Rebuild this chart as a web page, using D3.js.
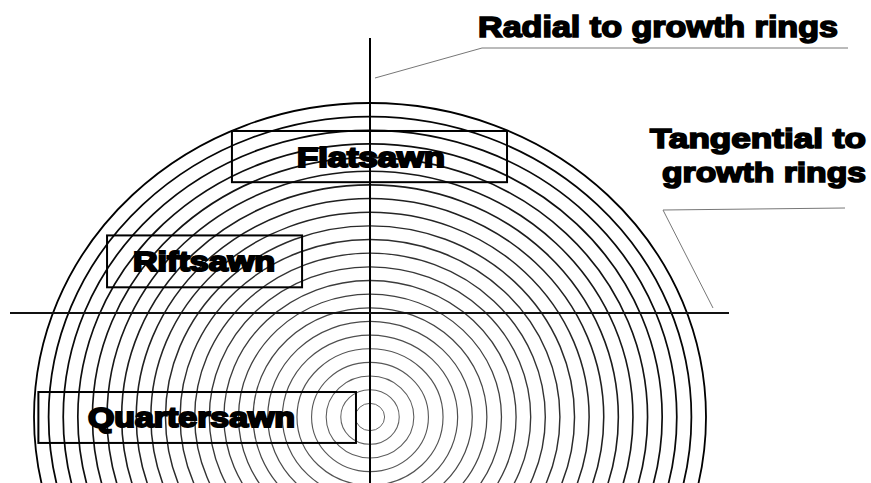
<!DOCTYPE html>
<html>
<head>
<meta charset="utf-8">
<script src="https://cdn.jsdelivr.net/npm/d3@7"></script>
<style>
  body { margin: 0; background: #fff; }
  text { font-family: "Liberation Sans", Arial, sans-serif; font-weight: bold; fill: #000; }
</style>
</head>
<body>
<svg id="chart"></svg>
<script>
// growth rings, numbered from the pith outwards
var rings = [1, 2, 3, 4, 5, 6, 7, 8, 9, 10, 11, 12, 13, 14, 15, 16, 17, 18, 19, 20, 21, 22, 23]

// sawn boards: label and where they sit, in ring units (x across, y up from pith)
var boardNames = ['Flatsawn', 'Riftsawn', 'Quartersawn']
var boardX0 = [-9.45, -18.0, -22.7]
var boardX1 = [9.38, -4.65, -0.96]
var boardY0 = [17.2, 9.5, -1.9]
var boardY1 = [20.95, 13.3, 1.83]

var callouts = ['Radial to growth rings', 'Tangential to', 'growth rings']

var width = 871,
    height = 483;

var svg = d3.select('#chart')
    .attr('width', width)
    .attr('height', height)

var cx = 370, cy = 417

var xScale = d3.scaleLinear().domain([0, 23]).range([0, 336])
var yScale = d3.scaleLinear().domain([0, 23]).range([0, 314])

var strokeCol = d3.scaleLinear().domain([1, 12, 23]).range(['#666', '#333', '#000'])
var strokeW = d3.scaleLinear().domain([1, 23]).range([1, 1.8])

var g = svg.append('g')

g.selectAll('ellipse')
    .data(rings)
    .join('ellipse')
    .attr('cx', cx)
    .attr('cy', cy)
    .attr('rx', d => xScale(d))
    .attr('ry', d => yScale(d))
    .attr('fill', 'none')
    .attr('stroke', d => strokeCol(d))
    .attr('stroke-width', d => strokeW(d))

// radial and tangential axes
g.append('line')
    .attr('x1', cx).attr('x2', cx)
    .attr('y1', 38).attr('y2', height)
    .attr('stroke', '#000')
    .attr('stroke-width', 2)

g.append('line')
    .attr('x1', 10).attr('x2', 729)
    .attr('y1', 313).attr('y2', 313)
    .attr('stroke', '#111')
    .attr('stroke-width', 1.8)

// boards
var boards = boardNames.map((n, i) => ({ name: n, x0: boardX0[i], x1: boardX1[i], y0: boardY0[i], y1: boardY1[i] }))
var textWidths = [148, 142, 207]

g.selectAll('rect.board')
    .data(boards)
    .join('rect')
    .attr('class', 'board')
    .attr('x', d => cx + xScale(d.x0))
    .attr('y', d => cy - yScale(d.y1))
    .attr('width', d => xScale(d.x1) - xScale(d.x0))
    .attr('height', d => yScale(d.y1) - yScale(d.y0))
    .attr('fill', 'none')
    .attr('stroke', '#000')
    .attr('stroke-width', 2)

var textX = [297, 133, 88]
g.selectAll('text.board')
    .data(boards)
    .join('text')
    .attr('class', 'board')
    .attr('x', (d, i) => textX[i])
    .attr('y', d => cy - yScale((d.y0 + d.y1) / 2) + 10)
    .attr('textLength', (d, i) => textWidths[i])
    .attr('lengthAdjust', 'spacingAndGlyphs')
    .style('font-size', '27px')
    .style('stroke', '#000')
    .style('stroke-width', 2)
    .text(d => d.name)

// callouts
var lbl = svg.append('g')
lbl.append('text')
    .attr('x', 478).attr('y', 37)
    .attr('textLength', 360)
    .attr('lengthAdjust', 'spacingAndGlyphs')
    .style('font-size', '29px')
    .style('stroke', '#000').style('stroke-width', 1.6)
    .text(callouts[0])

lbl.append('text')
    .attr('x', 650).attr('y', 148)
    .attr('textLength', 216)
    .attr('lengthAdjust', 'spacingAndGlyphs')
    .style('font-size', '27px')
    .style('stroke', '#000').style('stroke-width', 1.6)
    .text(callouts[1])

lbl.append('text')
    .attr('x', 662).attr('y', 182)
    .attr('textLength', 204)
    .attr('lengthAdjust', 'spacingAndGlyphs')
    .style('font-size', '27px')
    .style('stroke', '#000').style('stroke-width', 1.6)
    .text(callouts[2])

lbl.append('polyline')
    .attr('points', '375,78 482,48 848,48')
    .attr('fill', 'none')
    .attr('stroke', '#777')
    .attr('stroke-width', 1)

lbl.append('polyline')
    .attr('points', '713,308 663,210 845,208')
    .attr('fill', 'none')
    .attr('stroke', '#777')
    .attr('stroke-width', 1)
</script>
</body>
</html>
